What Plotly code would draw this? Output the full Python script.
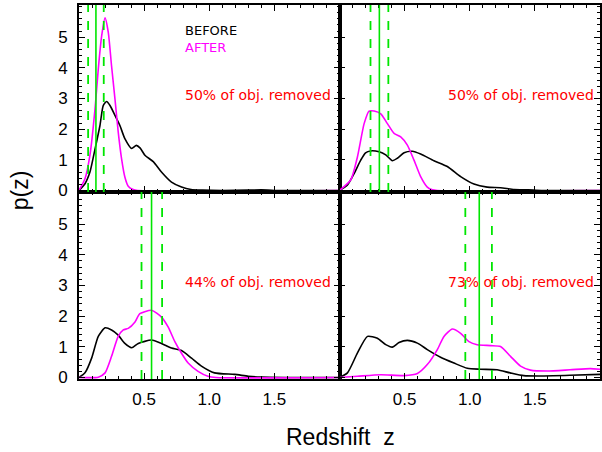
import plotly.graph_objects as go
from plotly.subplots import make_subplots

# ---------------- data ----------------
# Panel 1 (top-left)
z_before_1 = [0.0, 0.046, 0.084, 0.123, 0.161, 0.186, 0.212, 0.238, 0.276, 0.314, 0.352, 0.404, 0.44, 0.47, 0.506, 0.57, 0.633, 0.71, 0.787, 0.86, 0.95, 1.1, 1.3, 1.4, 1.5, 2.0]
p_before_1 = [0.0, 0.22, 0.6, 1.35, 2.12, 2.77, 2.9, 2.77, 2.45, 2.12, 1.69, 1.37, 1.47, 1.38, 1.15, 0.94, 0.6, 0.27, 0.11, 0.03, 0.01, 0.0, 0.01, 0.02, 0.0, 0.0]
z_after_1 = [0.0, 0.046, 0.084, 0.123, 0.148, 0.174, 0.2, 0.225, 0.25, 0.276, 0.301, 0.327, 0.352, 0.378, 0.416, 0.45, 2.0]
p_after_1 = [0.0, 0.38, 1.15, 2.66, 3.96, 5.04, 5.63, 5.15, 4.06, 2.99, 1.91, 1.03, 0.44, 0.14, 0.03, 0.0, 0.0]

# Panel 2 (top-right)
z_before_2 = [0.0, 0.061, 0.113, 0.163, 0.2, 0.24, 0.304, 0.355, 0.406, 0.444, 0.496, 0.559, 0.623, 0.725, 0.828, 0.93, 1.032, 1.134, 1.236, 1.34, 1.45, 1.55, 2.0]
p_before_2 = [0.0, 0.18, 0.56, 0.99, 1.23, 1.29, 1.26, 1.16, 0.97, 1.05, 1.23, 1.28, 1.19, 0.97, 0.78, 0.45, 0.21, 0.11, 0.09, 0.03, 0.02, 0.0, 0.0]
z_after_2 = [0.0, 0.087, 0.138, 0.189, 0.227, 0.266, 0.317, 0.368, 0.419, 0.47, 0.521, 0.572, 0.623, 0.674, 0.713, 0.75, 2.0]
p_after_2 = [0.0, 0.35, 1.1, 2.18, 2.59, 2.59, 2.5, 2.18, 1.86, 1.75, 1.48, 0.99, 0.45, 0.11, 0.02, 0.0, 0.0]

# Panel 3 (bottom-left)
z_before_3 = [0.0, 0.046, 0.097, 0.148, 0.2, 0.25, 0.301, 0.352, 0.404, 0.455, 0.557, 0.633, 0.71, 0.787, 0.864, 0.94, 1.04, 1.195, 1.3, 1.4, 1.6, 2.0]
p_before_3 = [0.0, 0.15, 0.63, 1.34, 1.62, 1.55, 1.38, 1.11, 0.97, 1.11, 1.22, 1.11, 0.96, 0.88, 0.63, 0.37, 0.15, 0.1, 0.04, 0.01, 0.0, 0.0]
z_after_3 = [0.0, 0.148, 0.2, 0.25, 0.301, 0.34, 0.378, 0.43, 0.467, 0.557, 0.633, 0.684, 0.736, 0.787, 0.838, 0.914, 0.99, 1.05, 2.0]
p_after_3 = [0.0, 0.01, 0.15, 0.69, 1.34, 1.55, 1.6, 1.81, 2.08, 2.19, 1.97, 1.65, 1.17, 0.79, 0.47, 0.2, 0.04, 0.0, 0.0]

# Panel 4 (bottom-right)
z_before_4 = [0.0, 0.061, 0.138, 0.215, 0.291, 0.355, 0.406, 0.457, 0.521, 0.598, 0.674, 0.776, 0.879, 0.981, 1.083, 1.21, 1.31, 1.415, 1.57, 1.77, 2.0]
p_before_4 = [0.0, 0.15, 0.8, 1.34, 1.28, 1.07, 0.99, 1.14, 1.21, 1.12, 0.91, 0.66, 0.47, 0.3, 0.27, 0.25, 0.15, 0.06, 0.05, 0.07, 0.1]
z_after_4 = [0.0, 0.138, 0.317, 0.496, 0.598, 0.674, 0.751, 0.802, 0.866, 0.93, 0.994, 1.057, 1.16, 1.236, 1.313, 1.39, 1.466, 1.594, 1.77, 1.925, 2.0]
p_after_4 = [0.0, 0.04, 0.09, 0.06, 0.13, 0.42, 0.91, 1.34, 1.58, 1.44, 1.17, 1.07, 1.04, 1.01, 0.69, 0.37, 0.24, 0.21, 0.25, 0.29, 0.27]

# Median redshift (solid) and its bounds (dashed) for each panel
z_center = [0.13, 0.306, 0.557, 1.073]
z_low = [0.07, 0.238, 0.48, 0.966]
z_high = [0.19, 0.375, 0.638, 1.17]

removed_labels = ["50% of obj. removed", "50% of obj. removed", "44% of obj. removed", "73% of obj. removed"]

x_tickvals = [0.5, 1.0, 1.5]
x_ticktext = ["0.5", "1.0", "1.5"]
y_tickvals = [0, 1, 2, 3, 4, 5]

before = [(z_before_1, p_before_1), (z_before_2, p_before_2), (z_before_3, p_before_3), (z_before_4, p_before_4)]
after = [(z_after_1, p_after_1), (z_after_2, p_after_2), (z_after_3, p_after_3), (z_after_4, p_after_4)]

# ---------------- figure ----------------
fig = make_subplots(rows=2, cols=2, horizontal_spacing=0, vertical_spacing=0)
positions = [(1, 1), (1, 2), (2, 1), (2, 2)]
GREEN = "#00e600"

for i, (r, c) in enumerate(positions):
    idx = i + 1
    xr = "x" if idx == 1 else f"x{idx}"
    yr = "y" if idx == 1 else f"y{idx}"
    # green lines
    for zv, dash, w in [(z_low[i], "dash", 1.8), (z_center[i], "solid", 1.6), (z_high[i], "dash", 1.8)]:
        fig.add_shape(type="line", xref=xr, yref=f"{yr} domain", x0=zv, x1=zv, y0=0, y1=1,
                      line=dict(color=GREEN, width=w, dash=dash), layer="above")
    fig.add_trace(go.Scatter(x=before[i][0], y=before[i][1], mode="lines",
                             line=dict(color="black", width=1.6, shape="spline", smoothing=0.6),
                             showlegend=False, hoverinfo="skip"), row=r, col=c)
    fig.add_trace(go.Scatter(x=after[i][0], y=after[i][1], mode="lines",
                             line=dict(color="#ff00ff", width=1.6, shape="spline", smoothing=0.6),
                             showlegend=False, hoverinfo="skip"), row=r, col=c)
    tx = 0.797 if c == 1 else 0.82
    fig.add_annotation(x=tx, y=3.13, xref=xr, yref=yr, text=removed_labels[i], showarrow=False,
                       xanchor="left", yanchor="middle",
                       font=dict(family="DejaVu Sans", size=14, color="#ff0000"))

fig.add_annotation(x=0.797, y=5.23, xref="x", yref="y", text="BEFORE", showarrow=False,
                   xanchor="left", yanchor="middle", font=dict(family="DejaVu Sans", size=13, color="black"))
fig.add_annotation(x=0.797, y=4.65, xref="x", yref="y", text="AFTER", showarrow=False,
                   xanchor="left", yanchor="middle", font=dict(family="DejaVu Sans", size=13, color="#ff00ff"))

fig.add_annotation(x=-0.113, y=0.505, xref="paper", yref="paper", text="p(z)", textangle=-90,
                   showarrow=False, xanchor="center", yanchor="middle",
                   font=dict(family="Liberation Sans", size=23, color="black"))
fig.add_annotation(x=0.501, y=-0.155, xref="paper", yref="paper", text="Redshift  z",
                   showarrow=False, xanchor="center", yanchor="middle",
                   font=dict(family="Liberation Sans", size=23, color="black"))

axis_common = dict(showline=True, linecolor="black", linewidth=1.6, mirror="allticks",
                   ticks="inside", ticklen=6, tickwidth=1.3, tickcolor="black",
                   showgrid=False, zeroline=False, automargin=False)

for i, (r, c) in enumerate(positions):
    fig.update_xaxes(range=[0, 2], tickvals=x_tickvals, ticktext=x_ticktext,
                     showticklabels=(r == 2), ticklabelstandoff=4,
                     tickfont=dict(family="Liberation Sans", size=17, color="black"),
                     minor=dict(dtick=0.1, ticklen=3, tickwidth=1, tickcolor="black", ticks="inside"),
                     row=r, col=c, **axis_common)
    fig.update_yaxes(range=[-0.05, 6.05], tickvals=y_tickvals,
                     showticklabels=(c == 1), ticklabelstandoff=6,
                     tickfont=dict(family="Liberation Sans", size=17, color="black"),
                     minor=dict(dtick=0.2, ticklen=3, tickwidth=1, tickcolor="black", ticks="inside"),
                     row=r, col=c, **axis_common)

fig.update_layout(width=602, height=452, margin=dict(l=79, r=2, t=5, b=73),
                  paper_bgcolor="white", plot_bgcolor="white")

fig.write_html("out.html", config={"displayModeBar": False},
               post_script="document.body.style.margin='0';")
